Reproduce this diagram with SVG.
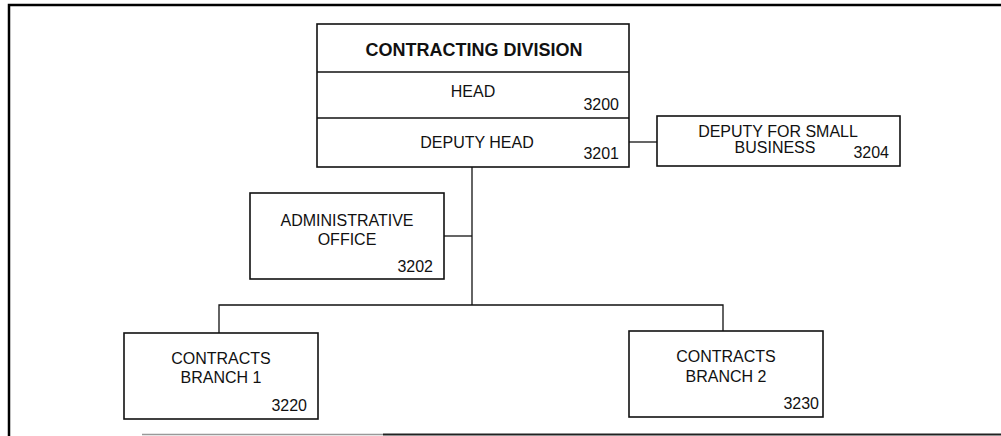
<svg xmlns="http://www.w3.org/2000/svg" width="1001" height="436" viewBox="0 0 1001 436">
<style>
.box{fill:#fff;stroke:#111;stroke-width:1.6}
.sep{stroke:#111;stroke-width:1.4}
.con{stroke:#111;stroke-width:1.3;fill:none}
text{font-family:"Liberation Sans",Arial,sans-serif;font-size:16px;fill:#111}
.c{text-anchor:middle}
.n{text-anchor:end}
.t{font-weight:bold;font-size:18px}
.frame{stroke:#000;stroke-width:2.5;fill:none}
</style>
<rect width="1001" height="436" fill="#fff"/>
<g id="frame">
<path class="frame" d="M9,436 V5 H1001"/>
<line x1="142" y1="434.5" x2="383" y2="434.5" stroke="#999" stroke-width="1.5"/>
<line x1="383" y1="434.5" x2="1001" y2="434.5" stroke="#222" stroke-width="2"/>
</g>
<g id="connectors">
<line class="con" x1="629" y1="142" x2="657" y2="142"/>
<line class="con" x1="472" y1="167" x2="472" y2="305"/>
<line class="con" x1="444" y1="236" x2="472" y2="236"/>
<path class="con" d="M219,333 V305 H723 V331"/>
</g>
<g id="contracting-division">
<rect class="box" x="317" y="24" width="312" height="143"/>
<line class="sep" x1="317" y1="72" x2="629" y2="72"/>
<line class="sep" x1="317" y1="118" x2="629" y2="118"/>
<text class="c t" x="474" y="56">CONTRACTING DIVISION</text>
<text class="c" x="473" y="97">HEAD</text>
<text class="n" x="619" y="110">3200</text>
<text class="c" x="477" y="148">DEPUTY HEAD</text>
<text class="n" x="619" y="159">3201</text>
</g>
<g id="deputy-small-business">
<rect class="box" x="657" y="116" width="243" height="50"/>
<text class="c" x="778" y="137">DEPUTY FOR SMALL</text>
<text class="c" x="775" y="153">BUSINESS</text>
<text class="n" x="889" y="158">3204</text>
</g>
<g id="administrative-office">
<rect class="box" x="250" y="193" width="194" height="86"/>
<text class="c" x="347" y="226">ADMINISTRATIVE</text>
<text class="c" x="347" y="245">OFFICE</text>
<text class="n" x="433" y="272">3202</text>
</g>
<g id="contracts-branch-1">
<rect class="box" x="124" y="333" width="194" height="86"/>
<text class="c" x="221" y="364">CONTRACTS</text>
<text class="c" x="221" y="383">BRANCH 1</text>
<text class="n" x="307" y="411">3220</text>
</g>
<g id="contracts-branch-2">
<rect class="box" x="629" y="331" width="194" height="86"/>
<text class="c" x="726" y="362">CONTRACTS</text>
<text class="c" x="726" y="382">BRANCH 2</text>
<text class="n" x="819" y="409">3230</text>
</g>
</svg>
